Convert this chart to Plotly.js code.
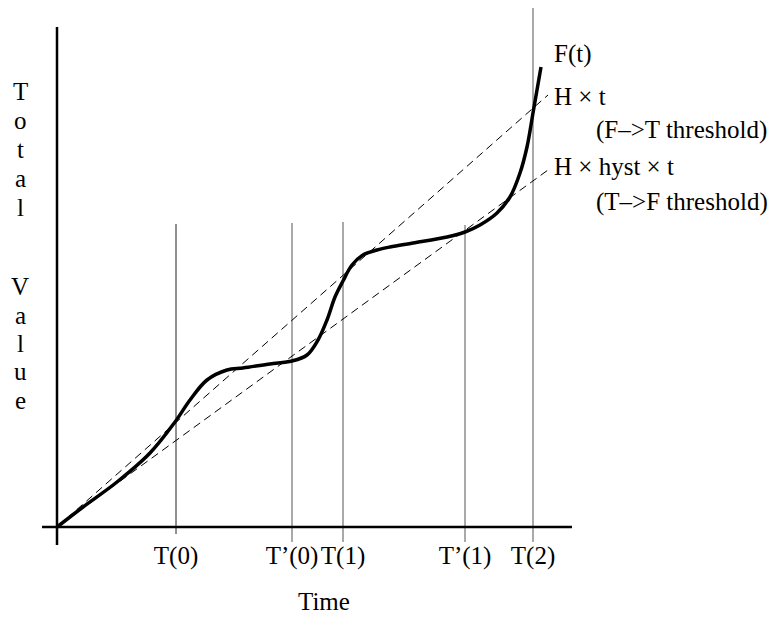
<!DOCTYPE html>
<html>
<head>
<meta charset="utf-8">
<script src="https://cdn.plot.ly/plotly-3.0.1.min.js"></script>
<style>html,body{margin:0;padding:0;background:#fff;}#chart{width:777px;height:617px;}</style>
</head>
<body>
<div id="chart"></div>
<script>
// ---- data ----
var curveT = [0, 26, 60, 93, 118, 133, 150, 170, 186, 213, 235, 250, 261, 270, 278, 286, 295, 306, 320, 333, 356, 390, 408, 423, 440, 453, 463, 470, 476, 480, 484];
var curveF = [0, 20, 45, 74, 105, 127, 147, 157, 159, 163, 166, 172, 187, 207, 230, 246, 262, 272, 277, 280, 284, 290, 295, 302, 314, 330, 354, 380, 414, 437, 460];
var lineT = [0, 491];
var upperLine = [0, 432];   // H x t
var lowerLine = [0, 357];   // H x hyst x t
var eventT = [119, 235, 286, 408, 476];
var eventTop = [303, 304, 305, 302, 519];
var eventLabels = ['T(0)', 'T\u2019(0)', 'T(1)', 'T\u2019(1)', 'T(2)'];
var yLetters = ['T', 'o', 't', 'a', 'l', 'V', 'a', 'l', 'u', 'e'];
var xTitle = 'Time';
var rightLabels = ['F(t)', 'H \u00d7 t', '(F\u2013>T threshold)', 'H \u00d7 hyst \u00d7 t', '(T\u2013>F threshold)'];

// ---- layout helpers (pixel positions -> paper) ----
var FONT = 'Liberation Serif, Times New Roman, serif';
var FS = 25;
var PL = 42, PW = 530, PB = 545, PH = 537;
function px(x){ return (x - PL) / PW; }
function pyBase(b){ return (PB - (b - 8.5)) / PH; }

var traces = [];
for (var i = 0; i < eventT.length; i++) {
  traces.push({x: [eventT[i], eventT[i]], y: [i === 0 ? -7 : -15, eventTop[i]], mode: 'lines',
    line: {color: i === 0 ? '#222' : '#555', width: 1}, hoverinfo: 'skip', showlegend: false});
}
traces.push({x: [-15, 515], y: [0, 0], mode: 'lines', line: {color: '#000', width: 2.5}, showlegend: false, hoverinfo: 'skip'});
traces.push({x: [0, 0], y: [-18, 500], mode: 'lines', line: {color: '#000', width: 2.5}, showlegend: false, hoverinfo: 'skip'});
traces.push({x: lineT, y: upperLine, mode: 'lines', line: {color: '#000', width: 1, dash: '8px,5px'}, showlegend: false});
traces.push({x: lineT, y: lowerLine, mode: 'lines', line: {color: '#000', width: 1, dash: '8px,5px'}, showlegend: false});
traces.push({x: curveT, y: curveF, mode: 'lines', line: {color: '#000', width: 3.5, shape: 'spline', smoothing: 1}, showlegend: false});

var annotations = [];
var letterBase = [100, 129, 158, 187, 216, 295, 324, 352, 380, 409];
for (var j = 0; j < yLetters.length; j++) {
  annotations.push({x: px(20), y: pyBase(letterBase[j]), xref: 'paper', yref: 'paper', text: yLetters[j],
    showarrow: false, xanchor: 'center', yanchor: 'middle', font: {family: FONT, size: FS, color: '#000'}});
}
annotations.push({x: px(324), y: pyBase(610), xref: 'paper', yref: 'paper', text: xTitle, showarrow: false,
  xanchor: 'center', yanchor: 'middle', font: {family: FONT, size: FS, color: '#000'}});
var rl = [[554, 63], [554, 105], [596, 138], [554, 175], [596, 210]];
for (var k = 0; k < rightLabels.length; k++) {
  annotations.push({x: px(rl[k][0] - 2), y: pyBase(rl[k][1]), xref: 'paper', yref: 'paper', text: rightLabels[k],
    showarrow: false, xanchor: 'left', yanchor: 'middle', font: {family: FONT, size: FS, color: '#000'}});
}

var layout = {
  width: 777, height: 617,
  margin: {l: 42, r: 205, t: 8, b: 72, pad: 0},
  paper_bgcolor: '#fff', plot_bgcolor: '#fff',
  showlegend: false,
  xaxis: {range: [-15, 515], showgrid: false, zeroline: false, showline: false,
    tickvals: eventT, ticktext: eventLabels, ticks: '', ticklabelstandoff: -7,
    tickfont: {family: FONT, size: FS, color: '#000'}, fixedrange: true},
  yaxis: {range: [-18, 519], showgrid: false, zeroline: false, showline: false,
    showticklabels: false, ticks: '', fixedrange: true},
  annotations: annotations
};
Plotly.newPlot('chart', traces, layout, {displayModeBar: false, staticPlot: true});
</script>
</body>
</html>
